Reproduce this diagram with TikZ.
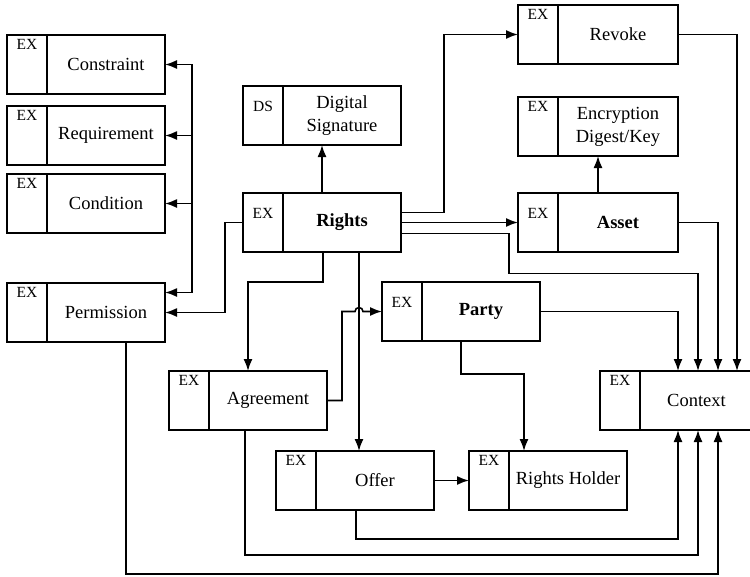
\documentclass[tikz,border=0pt]{standalone}
\usepackage{fontspec}
\setmainfont{Liberation Serif}
\usetikzlibrary{positioning, arrows.meta, calc}

\begin{document}
\begin{tikzpicture}[x=1pt, y=-1pt,
    tag/.style={rectangle, draw=black, line width=1.7pt, outer sep=0pt, anchor=north west, minimum width=40pt, minimum height=59pt, inner sep=2pt, text height=12.5pt, text depth=42.5pt, font=\fontsize{15.5}{17}\selectfont},
    low tag/.style={tag, text height=23.5pt, text depth=31.5pt},
    body/.style={rectangle, draw=black, line width=1.7pt, outer sep=0pt, minimum width=118pt, minimum height=59pt, inner sep=2pt, align=center, font=\fontsize{18.5}{23}\selectfont},
    link/.style={line width=1.6pt, -{Latex[length=12pt, width=9pt]}}
]
    \useasboundingbox (0,0) rectangle (750,576);

    % left column
    \node[tag] (constraint-tag) at (7,35) {EX};
    \node[body, right=0pt of constraint-tag] (constraint) {Constraint};
    \node[tag] (requirement-tag) at (7,106) {EX};
    \node[body, right=0pt of requirement-tag] (requirement) {Requirement};
    \node[tag] (condition-tag) at (7,174) {EX};
    \node[body, right=0pt of condition-tag] (condition) {Condition};
    \node[tag] (permission-tag) at (7,283) {EX};
    \node[body, right=0pt of permission-tag] (permission) {Permission};

    % middle
    \node[low tag] (signature-tag) at (243,86) {DS};
    \node[body, right=0pt of signature-tag] (signature) {Digital\\Signature};
    \node[low tag] (rights-tag) at (243,193) {EX};
    \node[body, right=0pt of rights-tag] (rights) {\textbf{Rights}};
    \node[low tag] (party-tag) at (382,282) {EX};
    \node[body, right=0pt of party-tag] (party) {\textbf{Party}};
    \node[tag] (agreement-tag) at (169,371) {EX};
    \node[body, right=0pt of agreement-tag] (agreement) {Agreement};
    \node[tag] (offer-tag) at (276,451) {EX};
    \node[body, right=0pt of offer-tag] (offer) {Offer};
    \node[tag] (holder-tag) at (469,451) {EX};
    \node[body, right=0pt of holder-tag] (holder) {Rights Holder};

    % right column
    \node[tag] (revoke-tag) at (518,5) {EX};
    \node[body, minimum width=120pt, right=0pt of revoke-tag] (revoke) {Revoke};
    \node[tag] (encryption-tag) at (518,97) {EX};
    \node[body, minimum width=120pt, right=0pt of encryption-tag] (encryption) {Encryption\\Digest/Key};
    \node[low tag] (asset-tag) at (518,193) {EX};
    \node[body, minimum width=120pt, right=0pt of asset-tag] (asset) {\textbf{Asset}};
    \node[tag] (context-tag) at (600,371) {EX};
    \node[body, minimum width=113pt, right=0pt of context-tag] (context) {Context};

    % bus to the left column
    \coordinate (bus) at ($(permission.east)+(27,-20)$);
    \draw[link] (bus) -- (bus -| permission.east);
    \draw[link] (bus) |- (condition.east);
    \draw[link] (bus) |- (requirement.east);
    \draw[link] (bus) |- (constraint.east);

    % from Rights
    \draw[link] (rights-tag.west) -- ++(-18,0) |- (permission.east);
    \draw[link] ([xshift=-20pt]rights.north) -- ([xshift=-20pt]signature.south);
    \draw[link] ([yshift=10pt]rights.east) -- ++(43,0) |- (revoke-tag.west);
    \draw[link] (rights.east) -- (asset-tag.west);
    \draw[link] ([yshift=-11pt]rights.east) -| ++(108,40) -| ([xshift=1.5pt]context.north);
    \draw[link] ([xshift=-19pt]rights.south) -- ++(0,30) -| ([xshift=-20pt]agreement.north);
    \coordinate (offer-in) at ([xshift=17pt]rights.south);
    \draw[link] (offer-in) -- (offer-in |- offer.north);

    \draw[link] ([xshift=-20pt]asset.north) -- ([xshift=-20pt]encryption.south);

    % into Context from above
    \draw[link] (revoke.east) -| ([xshift=40.5pt]context.north);
    \draw[link] (asset.east) -| ([xshift=21.5pt]context.north);
    \draw[link] (party.east) -| ([xshift=-18.5pt]context.north);

    % Agreement to Party, hopping over the Offer line
    \draw[link] (agreement.east) -- ++(15,0) |- ($(offer-in |- party-tag.west)+(-4,0)$) arc[start angle=180, end angle=0, radius=4pt] -- (party-tag.west);
    \draw[link] ([xshift=-20pt]party.south) -- ++(0,33) -| ([xshift=-44pt]holder.north);
    \draw[link] (offer.east) -- (holder-tag.west);

    % into Context from below
    \draw[link] ([xshift=-19pt]offer.south) -- ++(0,29) -| ([xshift=-18.5pt]context.south);
    \draw[link] ([xshift=-23pt]agreement.south) -- ++(0,125) -| ([xshift=1.5pt]context.south);
    \draw[link] ([xshift=20pt]permission.south) -- ++(0,232) -| ([xshift=21.5pt]context.south);
\end{tikzpicture}
\end{document}
